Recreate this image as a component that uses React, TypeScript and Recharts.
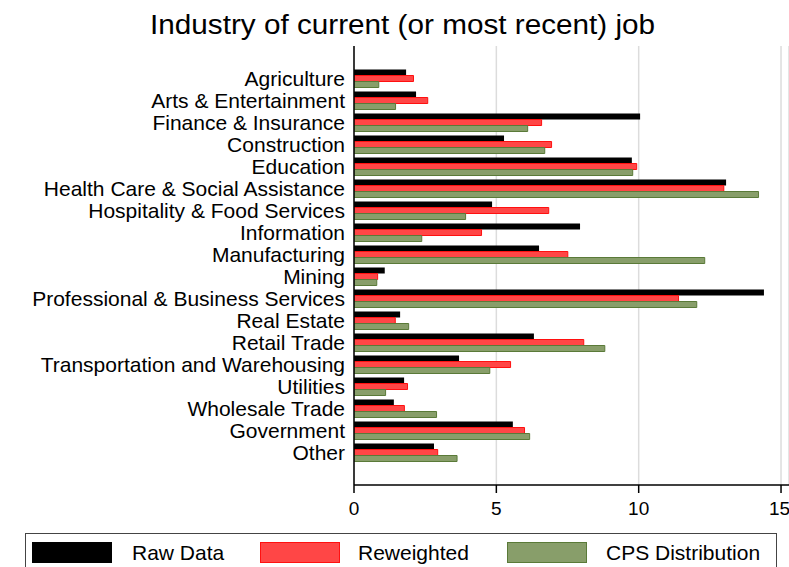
import React from "react";
import {
  BarChart,
  Bar,
  XAxis,
  YAxis,
  CartesianGrid,
} from "recharts";

const INDUSTRIES = [
  "Agriculture",
  "Arts & Entertainment",
  "Finance & Insurance",
  "Construction",
  "Education",
  "Health Care & Social Assistance",
  "Hospitality & Food Services",
  "Information",
  "Manufacturing",
  "Mining",
  "Professional & Business Services",
  "Real Estate",
  "Retail Trade",
  "Transportation and Warehousing",
  "Utilities",
  "Wholesale Trade",
  "Government",
  "Other",
];

const RAW = [1.83, 2.18, 10.05, 5.27, 9.76, 13.07, 4.85, 7.94, 6.5, 1.08, 14.4, 1.62, 6.32, 3.69, 1.76, 1.4, 5.58, 2.81];
const REWEIGHTED = [2.09, 2.59, 6.59, 6.94, 9.93, 12.99, 6.84, 4.48, 7.51, 0.83, 11.4, 1.45, 8.07, 5.5, 1.88, 1.77, 5.99, 2.94];
const CPS = [0.87, 1.46, 6.1, 6.7, 9.79, 14.21, 3.92, 2.38, 12.32, 0.8, 12.04, 1.92, 8.81, 4.77, 1.11, 2.9, 6.17, 3.62];

const X_TICKS = [0, 5, 10, 15];

const FONT = "'Liberation Sans', Arial, Helvetica, sans-serif";
const RED_FILL = "#ff4646";
const RED_LINE = "#ff1010";
const GREEN_FILL = "#889e6a";
const GREEN_LINE = "#5a7a38";

const data = INDUSTRIES.map((name, i) => ({
  name,
  raw: RAW[i],
  reweighted: REWEIGHTED[i],
  cps: CPS[i],
}));

const legendItems = [
  { label: "Raw Data", fill: "#000000", stroke: "#000000", x: 32, tx: 132 },
  { label: "Reweighted", fill: RED_FILL, stroke: RED_LINE, x: 260, tx: 358 },
  { label: "CPS Distribution", fill: GREEN_FILL, stroke: GREEN_LINE, x: 507, tx: 606 },
];

export default function App() {
  return (
    <div
      style={{
        position: "absolute",
        left: 0,
        top: 0,
        width: 789,
        height: 567,
        overflow: "hidden",
        background: "#fff",
        fontFamily: FONT,
      }}
    >
      <div
        style={{
          position: "absolute",
          left: 150,
          top: 10,
          fontSize: 27,
          color: "#000",
          whiteSpace: "nowrap",
          transform: "scaleX(1.1)",
          transformOrigin: "left top",
        }}
      >
        Industry of current (or most recent) job
      </div>
      <BarChart
        width={789}
        height={567}
        data={data}
        layout="vertical"
        margin={{ top: 46, right: 0, bottom: 52, left: 0 }}
        barSize={6}
        barGap={0}
        style={{ position: "absolute", left: 0, top: 0 }}
      >
        <CartesianGrid horizontal={false} stroke="#dcdcdc" strokeWidth={1.5} />
        <XAxis
          type="number"
          domain={[0, 15.28]}
          ticks={X_TICKS}
          allowDataOverflow
          height={30}
          tickSize={8}
          tickMargin={9}
          stroke="#000"
          strokeWidth={1.5}
          tick={{ fill: "#000", fontSize: 19, fontFamily: FONT }}
        />
        <XAxis
          xAxisId="top"
          orientation="top"
          type="number"
          domain={[0, 15.28]}
          height={0}
          tick={false}
          tickLine={false}
          stroke="#000"
          strokeWidth={1.5}
        />
        <YAxis
          type="category"
          dataKey="name"
          width={354}
          padding={{ top: 21.5, bottom: 21.5 }}
          interval={0}
          tickLine={false}
          tickSize={0}
          tickMargin={9}
          stroke="#000"
          strokeWidth={1.5}
          tick={{ fill: "#000", fontSize: 21, fontFamily: FONT }}
        />
        <Bar dataKey="raw" fill="#000" isAnimationActive={false} />
        <Bar
          dataKey="reweighted"
          fill={RED_FILL}
          stroke={RED_LINE}
          strokeWidth={1}
          isAnimationActive={false}
        />
        <Bar
          dataKey="cps"
          fill={GREEN_FILL}
          stroke={GREEN_LINE}
          strokeWidth={1}
          isAnimationActive={false}
        />
      </BarChart>
      <div
        style={{
          position: "absolute",
          left: 25,
          top: 533,
          width: 752,
          height: 60,
          border: "1px solid #444",
          boxSizing: "border-box",
        }}
      />
      {legendItems.map((it) => (
        <React.Fragment key={it.label}>
          <div
            style={{
              position: "absolute",
              left: it.x,
              top: 542,
              width: 80,
              height: 21,
              background: it.fill,
              border: `1px solid ${it.stroke}`,
              boxSizing: "border-box",
            }}
          />
          <div
            style={{
              position: "absolute",
              left: it.tx,
              top: 541,
              fontSize: 21,
              lineHeight: "24px",
              color: "#000",
              whiteSpace: "nowrap",
            }}
          >
            {it.label}
          </div>
        </React.Fragment>
      ))}
    </div>
  );
}
